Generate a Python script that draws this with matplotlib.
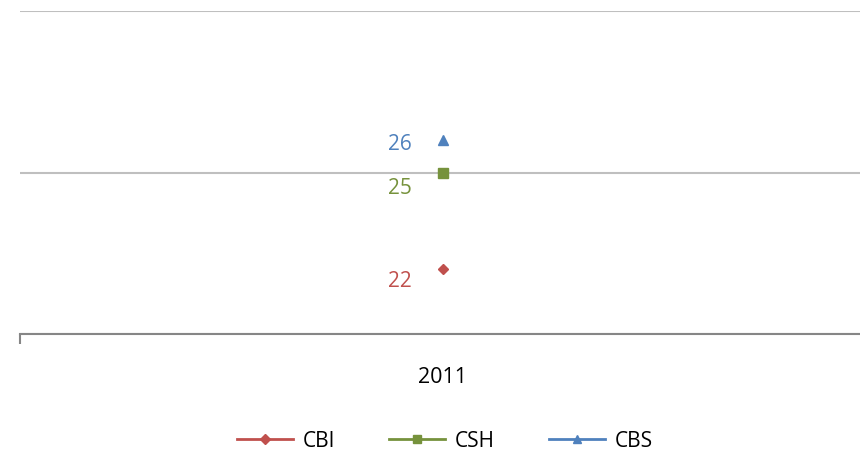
import matplotlib
matplotlib.use("Agg")
import matplotlib.pyplot as plt
from matplotlib.lines import Line2D

categories = ["2011"]
series_names = ["CBI", "CSH", "CBS"]
cbi = [22]
csh = [25]
cbs = [26]

colors = {"CBI": "#C0504D", "CSH": "#76923C", "CBS": "#4F81BD"}
markers = {"CBI": "D", "CSH": "s", "CBS": "^"}
msizes = {"CBI": 5.5, "CSH": 7, "CBS": 7}
label_offsets = {"CBI": (-43, -12), "CSH": (-43, -16), "CBS": (-43, -4)}

plt.rcParams["font.family"] = ["Open Sans", "DejaVu Sans"]

fig = plt.figure(figsize=(8.6, 4.61), dpi=100)
ax = fig.add_axes([20 / 860, (461 - 334) / 461, 846 / 860, 323 / 461])

x = list(range(len(categories)))
for name, vals in zip(series_names, [cbi, csh, cbs]):
    ax.plot(x, vals, color=colors[name], marker=markers[name],
            markersize=msizes[name], linestyle="-", linewidth=2, zorder=3)
    for xi, v in zip(x, vals):
        ax.annotate(str(v), (xi, v), textcoords="offset pixels",
                    xytext=label_offsets[name], ha="center", va="center",
                    color=colors[name], fontsize=15)

ax.set_xlim(-0.5, len(categories) - 0.5)
ax.set_ylim(20, 30)
ax.set_yticks([20, 25, 30])
ax.yaxis.grid(True, color="#BFBFBF", linewidth=1.5)
ax.set_axisbelow(True)
ax.tick_params(axis="y", left=False, labelleft=False)

for s in ["top", "right", "left"]:
    ax.spines[s].set_visible(False)
ax.spines["bottom"].set_color("#868686")
ax.spines["bottom"].set_linewidth(1.5)

ax.set_xticks([-0.5, 0.5], minor=False)
ax.set_xticklabels(["", ""])
ax.tick_params(axis="x", length=7, width=1.5, color="#868686")
ax.text(0, -0.135, categories[0], transform=ax.get_xaxis_transform(),
        ha="center", va="center", fontsize=15.5)

handles = [Line2D([], [], color=colors[n], marker=markers[n],
                  markersize=msizes[n] * 0.9, linewidth=2) for n in series_names]
fig.legend(handles, series_names, loc="center", bbox_to_anchor=(0.517, 1 - 441 / 461),
           ncol=3, frameon=False, fontsize=15, handlelength=2.7,
           handletextpad=0.45, columnspacing=2.6)

fig.savefig("out.png", dpi=100)
